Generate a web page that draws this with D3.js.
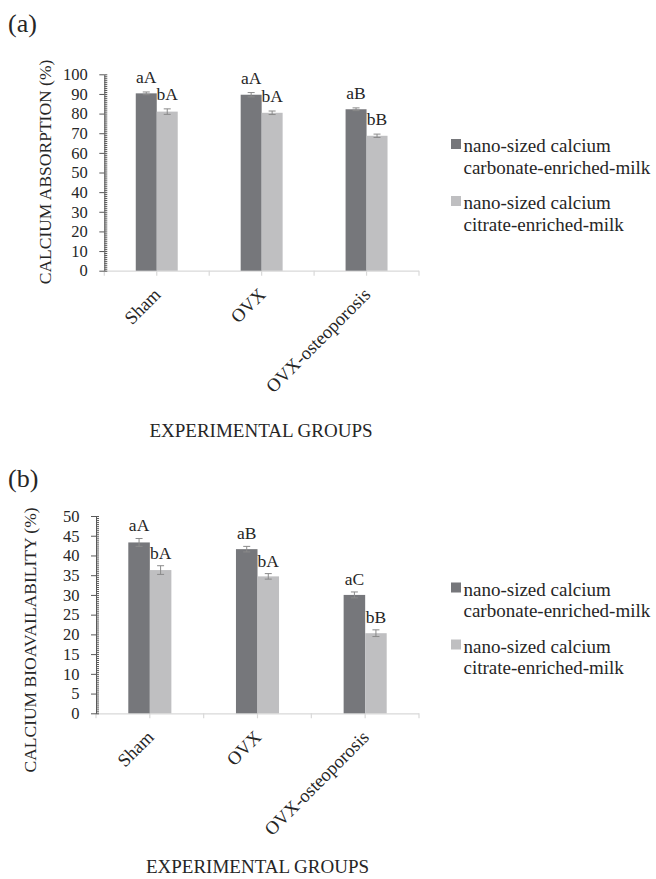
<!DOCTYPE html>
<html>
<head>
<meta charset="utf-8">
<script src="https://cdn.jsdelivr.net/npm/d3@7"></script>
<style>
  html, body { margin: 0; padding: 0; background: #fff; }
  svg { display: block; }
</style>
</head>
<body>
<svg id="chart" width="656" height="879"></svg>
<script>
// ---- data ----
const categories = ["Sham", "OVX", "OVX-osteoporosis"];
const seriesKeys = ["carbonate", "citrate"];
const legendLines = [
  ["nano-sized calcium", "carbonate-enriched-milk"],
  ["nano-sized calcium", "citrate-enriched-milk"]
];

// (a) calcium absorption, %
const absorptionCarbonate = [90.3, 89.6, 82.2];
const absorptionCitrate = [81.0, 80.4, 68.7];
const absorptionCarbonateErr = [0.7, 1.1, 0.7];
const absorptionCitrateErr = [1.4, 0.9, 0.85];
const absorptionCarbonateLetters = ["aA", "aA", "aB"];
const absorptionCitrateLetters = ["bA", "bA", "bB"];
const absorptionTicks = [0, 10, 20, 30, 40, 50, 60, 70, 80, 90, 100];

// (b) calcium bioavailability, %
const bioCarbonate = [43.3, 41.6, 30.0];
const bioCitrate = [36.3, 34.7, 20.3];
const bioCarbonateErr = [1.0, 0.7, 0.75];
const bioCitrateErr = [1.1, 0.7, 0.85];
const bioCarbonateLetters = ["aA", "aB", "aC"];
const bioCitrateLetters = ["bA", "bA", "bB"];
const bioTicks = [0, 5, 10, 15, 20, 25, 30, 35, 40, 45, 50];

// ---- style ----
const FONT = "'Liberation Serif', 'Times New Roman', serif";
const TEXT = "#262626";
const colors = { carbonate: "#76777b", citrate: "#bfbfc1" };

const svg = d3.select("#chart");

function label(parent, x, y, str, o = {}) {
  const t = parent.append("text")
    .attr("x", 0).attr("y", 0)
    .attr("transform", `translate(${x},${y})` + (o.rotate ? ` rotate(${o.rotate})` : ""))
    .attr("font-family", FONT)
    .attr("font-size", o.size || 17)
    .attr("fill", TEXT)
    .attr("text-anchor", o.anchor || "start")
    .text(str);
  if (o.baseline) t.attr("dominant-baseline", o.baseline);
  return t;
}

function panel(cfg) {
  const g = svg.append("g");
  const x = d3.scaleBand().domain(categories).range([cfg.left, cfg.right]).padding(0);
  const bw = x.bandwidth();
  const xs = d3.scaleBand().domain(seriesKeys).range([bw * 0.3, bw * 0.7]).padding(0);
  const y = d3.scaleLinear().domain([0, cfg.max]).range([cfg.bottom, cfg.top]);

  const rows = categories.map((c, i) => ({
    c,
    carbonate: { v: cfg.carbonate[i], e: cfg.carbonateErr[i], t: cfg.carbonateLetters[i] },
    citrate: { v: cfg.citrate[i], e: cfg.citrateErr[i], t: cfg.citrateLetters[i] }
  }));

  // category axis line and ticks
  g.append("line")
    .attr("x1", cfg.left).attr("x2", cfg.right)
    .attr("y1", cfg.bottom + 0.5).attr("y2", cfg.bottom + 0.5)
    .attr("stroke", "#d9d9d9").attr("stroke-width", 1.2);
  const xTicks = [];
  categories.forEach(c => { xTicks.push(x(c)); xTicks.push(x(c) + bw / 2); });
  xTicks.push(cfg.right);
  g.selectAll("line.xt").data(xTicks).join("line")
    .attr("x1", d => d).attr("x2", d => d)
    .attr("y1", cfg.bottom).attr("y2", cfg.bottom + 5)
    .attr("stroke", "#d9d9d9").attr("stroke-width", 1.2);

  // bars
  const groups = g.selectAll("g.grp").data(rows).join("g")
    .attr("transform", d => `translate(${x(d.c)},0)`);
  seriesKeys.forEach(k => {
    groups.append("rect")
      .attr("x", xs(k)).attr("width", xs.bandwidth())
      .attr("y", d => y(d[k].v)).attr("height", d => y(0) - y(d[k].v))
      .attr("fill", colors[k]);
    // error bars
    const cx = xs(k) + xs.bandwidth() / 2;
    groups.append("line")
      .attr("x1", cx).attr("x2", cx)
      .attr("y1", d => y(d[k].v + d[k].e)).attr("y2", d => y(d[k].v - d[k].e))
      .attr("stroke", "#8a8a8a").attr("stroke-width", 1);
    [1, -1].forEach(s => {
      groups.append("line")
        .attr("x1", cx - 3.5).attr("x2", cx + 3.5)
        .attr("y1", d => y(d[k].v + s * d[k].e)).attr("y2", d => y(d[k].v + s * d[k].e))
        .attr("stroke", "#8a8a8a").attr("stroke-width", 1);
    });
    // significance letters
    rows.forEach(d => {
      label(g, x(d.c) + cx, y(d[k].v + d[k].e) - cfg.letterGap, d[k].t, { anchor: "middle", size: 17.5 });
    });
  });

  // value axis: minor ticks inside, major ticks outside
  const minor = d3.range(0, cfg.max + 1e-9, cfg.minorStep);
  g.append("g").attr("transform", `translate(${cfg.left},0)`)
    .call(d3.axisLeft(y).tickValues(minor).tickSizeInner(-3).tickSizeOuter(0).tickFormat(""))
    .call(a => a.select(".domain").remove())
    .call(a => a.selectAll("line").attr("stroke", "#595959"));
  const ax = g.append("g").attr("transform", `translate(${cfg.left},0)`)
    .call(d3.axisLeft(y).tickValues(cfg.ticks).tickSizeInner(5).tickSizeOuter(0).tickPadding(11.5));
  ax.select(".domain").attr("stroke", "#595959");
  ax.selectAll(".tick line").attr("stroke", "#595959");
  ax.selectAll(".tick text")
    .attr("font-family", FONT).attr("font-size", 16.5).attr("fill", TEXT);

  // category labels
  categories.forEach(c => {
    label(g, x(c) + bw / 2 + 5, cfg.bottom + 25, c, { anchor: "end", rotate: -45, size: 18.5 });
  });

  // titles
  label(g, cfg.yTitleX, cfg.yTitleY, cfg.yTitle, { anchor: "middle", rotate: -90, size: 17.5, baseline: "central" });
  label(g, cfg.xTitleX, cfg.xTitleY, "EXPERIMENTAL GROUPS", { anchor: "middle", size: 19 });
  label(g, 8, cfg.tagY, cfg.tag, { size: 26 });

  // legend
  seriesKeys.forEach((k, i) => {
    const ly = cfg.legendY + i * cfg.legendStep;
    g.append("rect").attr("x", 451).attr("y", ly - 5).attr("width", 10).attr("height", 10).attr("fill", colors[k]);
    legendLines[i].forEach((ln, j) => label(g, 463.5, ly + 8 + j * 21.5, ln, { size: 19 }));
  });
}

panel({
  tag: "(a)", tagY: 32,
  left: 104.3, right: 419, top: 74.3, bottom: 270.7, max: 100, minorStep: 1,
  ticks: absorptionTicks,
  carbonate: absorptionCarbonate, citrate: absorptionCitrate,
  carbonateErr: absorptionCarbonateErr, citrateErr: absorptionCitrateErr,
  carbonateLetters: absorptionCarbonateLetters, citrateLetters: absorptionCitrateLetters,
  letterGap: 9,
  yTitle: "CALCIUM ABSORPTION (%)", yTitleX: 44.5, yTitleY: 172,
  xTitleX: 261, xTitleY: 436.5,
  legendY: 144, legendStep: 57
});

panel({
  tag: "(b)", tagY: 487,
  left: 96, right: 419, top: 516, bottom: 713.3, max: 50, minorStep: 0.5,
  ticks: bioTicks,
  carbonate: bioCarbonate, citrate: bioCitrate,
  carbonateErr: bioCarbonateErr, citrateErr: bioCitrateErr,
  carbonateLetters: bioCarbonateLetters, citrateLetters: bioCitrateLetters,
  letterGap: 7,
  yTitle: "CALCIUM BIOAVAILABILITY (%)", yTitleX: 30, yTitleY: 640,
  xTitleX: 257.5, xTitleY: 873,
  legendY: 587.5, legendStep: 57
});
</script>
</body>
</html>
